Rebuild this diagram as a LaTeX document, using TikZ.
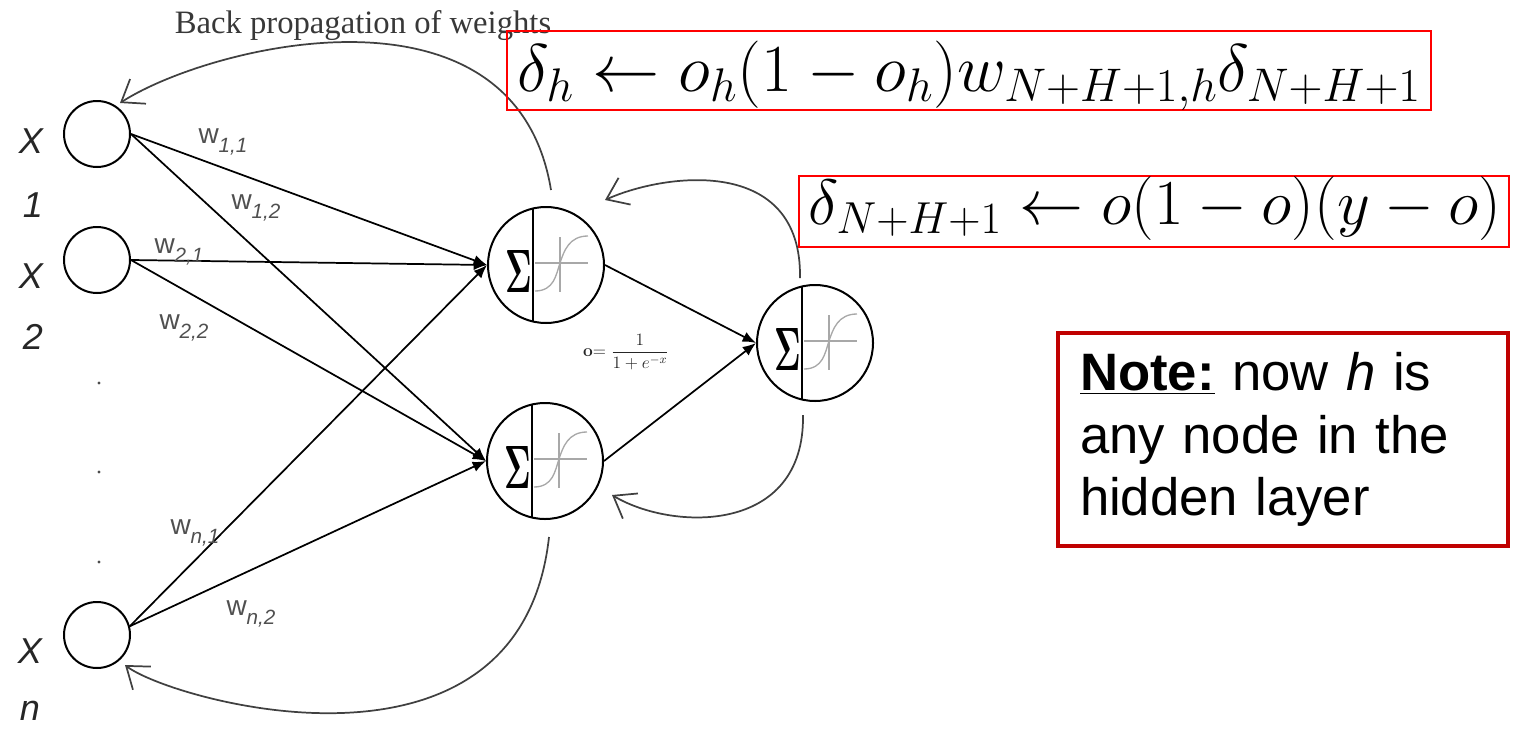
\RequirePackage{fix-cm}
\documentclass[tikz,border=0pt]{standalone}
\usepackage[no-math]{fontspec}
\setmainfont{Liberation Sans}
\newfontfamily\tnr{Liberation Serif}
\usepackage{graphicx}
\usetikzlibrary{arrows.meta,calc}
\definecolor{noteRed}{HTML}{C00000}
\definecolor{arcGray}{HTML}{404040}
\definecolor{sigGray}{HTML}{A8A8A8}
\definecolor{wGray}{HTML}{505050}
\newcommand\wsub[1]{w\raisebox{-0.3em}{\fontsize{15.5}{15.5}\selectfont\itshape #1}}
\tikzset{
  innode/.style={circle,draw=black,line width=1.5pt,minimum size=49.5pt,inner sep=0pt},
  neuron/.style={circle,draw=black,line width=1.5pt,minimum size=87pt,inner sep=0pt},
  wline/.style={line width=1.3pt,-{Latex[length=10pt,width=8pt]}},
  backarc/.style={draw=arcGray,line width=1.3pt,-{Straight Barb[length=15pt,width=22pt]}},
  xlab/.style={font=\fontsize{27}{27}\selectfont\itshape,text=black!85,inner sep=0pt},
  wlab/.style={font=\fontsize{21}{21}\selectfont,text=wGray,inner sep=0pt},
  formbox/.style={draw=red,line width=1.5pt,inner sep=0pt},
  formula/.style={inner sep=0pt,anchor=base},
  notebox/.style={draw=noteRed,line width=3pt,minimum width=337.5pt,minimum height=159.75pt,
    text width=304.5pt,inner xsep=16.5pt,inner ysep=0pt,align=left,font=\fontsize{39.5}{47}\selectfont},
  sigline/.style={draw=sigGray,line width=1pt},
  dotnode/.style={circle,fill=black!70,inner sep=0pt,minimum size=2.5pt}
}
\begin{document}
\begin{tikzpicture}[x=0.75pt,y=-0.75pt]
\useasboundingbox (0,0) rectangle (1516,728);

% input nodes
\node[innode] (x1) at (97,134) {};
\node[innode] (x2) at (97,260) {};
\node[innode] (xn) at (97,635) {};
\node[xlab] (lx1) at (31,141) {X};
\node[xlab] (l1)  at (33,205) {1};
\node[xlab] (lx2) at (31,276) {X};
\node[xlab] (l2)  at (33,337) {2};
\node[xlab] (lxn) at (30,651) {X};
\node[xlab] (ln)  at (30,711) {n};
\node[dotnode] (d1) at (99,383) {};
\node[dotnode] (d2) at (99,472) {};
\node[dotnode] (d3) at (99,562) {};

% neurons
\node[neuron] (h1) at (546,265) {};
\node[neuron] (h2) at (545,461) {};
\node[neuron] (out) at (815,343) {};
\foreach \n in {h1,h2,out}{
  \draw[line width=1.5pt] ($(\n.center)+(-13,-56.5)$) -- ($(\n.center)+(-13,56.5)$);
  \node[inner sep=0pt] (\n sum) at ($(\n.center)+(-27.5,6)$) {\resizebox{20pt}{31.5pt}{$\mathbf{\Sigma}$}};
  \draw[sigline] ($(\n.center)+(-11,-2)$) -- ++(53,0);
  \draw[sigline] ($(\n.center)+(14,-28)$) -- ++(0,55);
  \draw[sigline] ($(\n.center)+(-11,26)$) .. controls +(19,0) and +(-4,12) .. ($(\n.center)+(14,-2)$)
                 .. controls +(4,-12) and +(-19,0) .. ($(\n.center)+(42,-29)$);
}

% weighted connections
\draw[wline] (x1.east) -- (h1.west);
\draw[wline] (x1.east) -- (h2.west);
\draw[wline] (x2.east) -- (h1.west);
\draw[wline] (x2.east) -- (h2.west);
\draw[wline] (xn.15) -- (h1.west);
\draw[wline] (xn.15) -- (h2.west);
\draw[wline] (h1.east) -- (out.west);
\draw[wline] (h2.east) -- (out.west);

% weight labels
\node[wlab] (w11) at (223,142) {\wsub{1,1}};
\node[wlab] (w12) at (256,208) {\wsub{1,2}};
\node[wlab] (w21) at (179,252) {\wsub{2,1}};
\node[wlab] (w22) at (184,328) {\wsub{2,2}};
\node[wlab] (wn1) at (195,533) {\wsub{n,1}};
\node[wlab] (wn2) at (251,614) {\wsub{n,2}};

% sigmoid formula
\node[inner sep=0pt,font=\fontsize{13}{15}\selectfont,text=black!85] (sig) at (626,352)
  {$\mathbf{o}{=}\;\displaystyle\frac{1}{1+e^{-x}}$};

% back propagation arcs
\coordinate (a1s) at (551,190); \coordinate (a1e) at (120,103);
\coordinate (a2s) at (800,278); \coordinate (a2e) at (605,200);
\coordinate (a3s) at (803,415); \coordinate (a3e) at (612,495);
\coordinate (a4s) at (549,537); \coordinate (a4e) at (125,665);
\draw[backarc] (a1s) .. controls (515,-30) and (210,45) .. (a1e);
\draw[backarc] (a2s) .. controls (802,155) and (665,173) .. (a2e);
\draw[backarc] (a3s) .. controls (805,535) and (672,531) .. (a3e);
\draw[backarc] (a4s) .. controls (520,800) and (170,700) .. (a4e);

\node[font=\tnr\fontsize{24.5}{25}\selectfont,text=black!78,anchor=base,inner sep=0pt] (bp) at (363,33) {Back propagation of weights};

% formula boxes
\node[formbox,minimum width=693pt,minimum height=59.25pt] (fb1) at (969,70.5) {};
\node[formula,font=\fontsize{50.5}{50.5}\selectfont] (f1) at (969,91) {$\displaystyle \delta_h \leftarrow o_h(1-o_h)w_{N+H+1,h}\delta_{N+H+1}$};
\node[formbox,minimum width=532.5pt,minimum height=53.25pt] (fb2) at (1154,211.5) {};
\node[formula,font=\fontsize{48}{48}\selectfont] (f2) at (1155,224) {$\displaystyle \delta_{N+H+1} \leftarrow o(1-o)(y-o)$};

% note
\node[notebox] (note) at (1283,439.5) {\underline{\textbf{Note:}} now \textit{h} is\\any node in the\\hidden layer};
\end{tikzpicture}
\end{document}
